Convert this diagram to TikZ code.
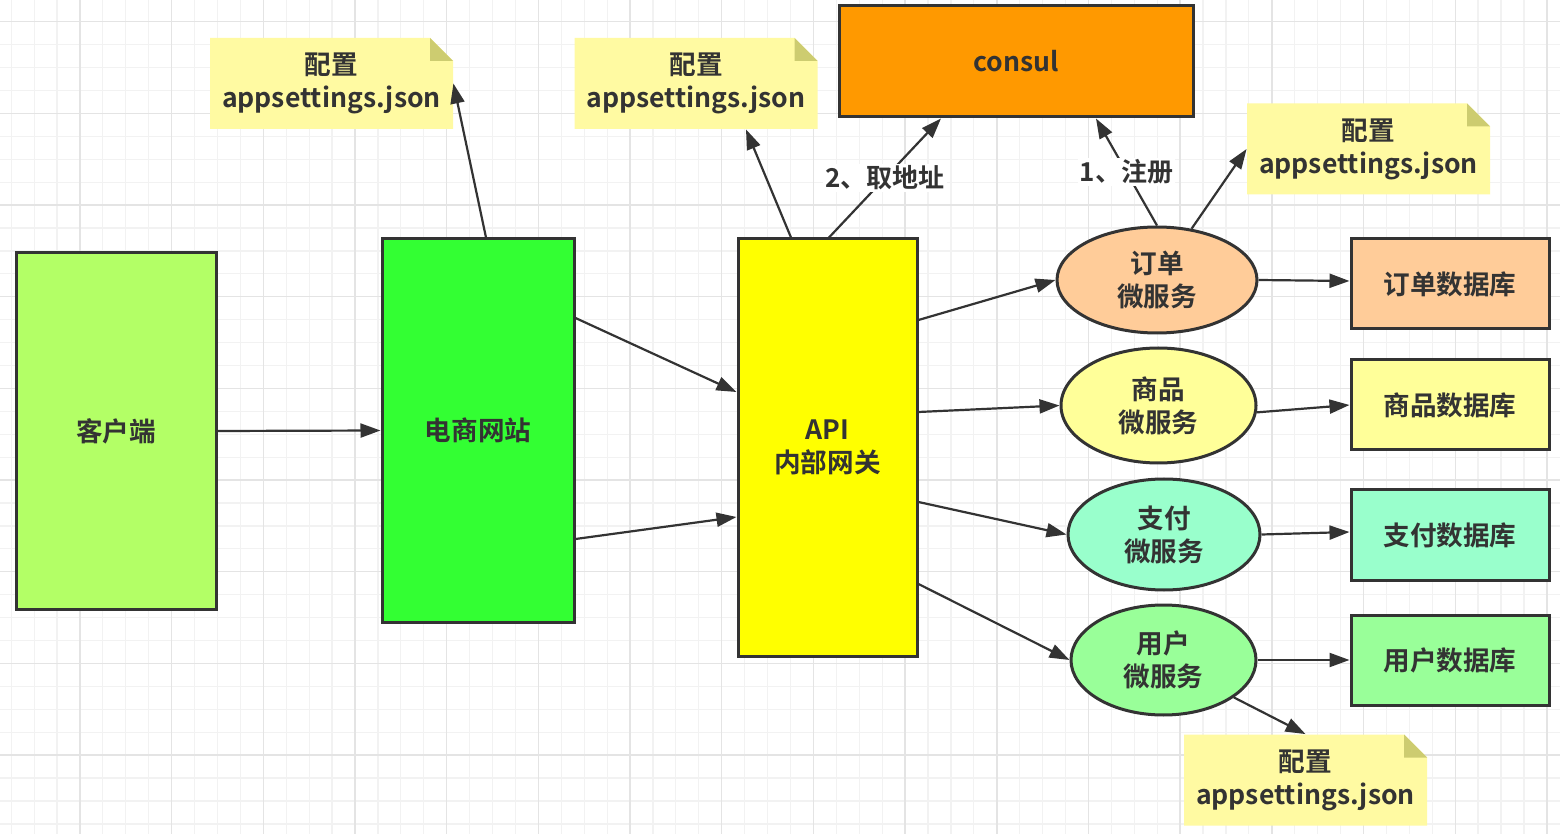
\documentclass[tikz,border=0pt]{standalone}
\usepackage{fontspec}
\setmainfont{Noto Sans CJK SC}[BoldFont={Noto Sans CJK SC Bold}]
\usetikzlibrary{arrows.meta,shapes.geometric}

\definecolor{linec}{HTML}{333333}
\definecolor{gridminor}{HTML}{F2F2F2}
\definecolor{gridmajor}{HTML}{E4E4E4}
\definecolor{clientc}{HTML}{B3FF66}
\definecolor{shopc}{HTML}{33FF33}
\definecolor{apic}{HTML}{FFFF00}
\definecolor{consulc}{HTML}{FF9900}
\definecolor{orderc}{HTML}{FFCC99}
\definecolor{goodsc}{HTML}{FFFF99}
\definecolor{payc}{HTML}{99FFCC}
\definecolor{userc}{HTML}{99FF99}
\definecolor{notefill}{HTML}{FFFAA2}
\definecolor{foldfill}{HTML}{CDCC70}

\begin{document}
\begin{tikzpicture}[x=0.5pt,y=-0.5pt,
  lab/.style={font=\fontsize{13.3pt}{16.5pt}\selectfont\bfseries, text=linec, align=center},
  box/.style={lab, rectangle, draw=linec, line width=1.5pt, inner sep=0pt},
  svc/.style={lab, ellipse, draw=linec, line width=1.5pt, inner sep=0pt},
  notebox/.style={lab, rectangle, inner sep=0pt, minimum width=121.5pt, minimum height=45.5pt,
    path picture={
      \fill[notefill] (path picture bounding box.south west) -- (path picture bounding box.north west)
        -- ([xshift=-11.5pt]path picture bounding box.north east)
        -- ([yshift=-11.5pt]path picture bounding box.north east)
        -- (path picture bounding box.south east) -- cycle;
      \fill[foldfill] ([xshift=-11.5pt]path picture bounding box.north east)
        -- ([xshift=-11.5pt,yshift=-11.5pt]path picture bounding box.north east)
        -- ([yshift=-11.5pt]path picture bounding box.north east) -- cycle;
    }},
  link/.style={draw=linec, line width=1.1pt, -{Triangle[length=10pt,width=7pt]}},
  tag/.style={font=\fontsize{13pt}{15pt}\selectfont\bfseries, text=linec, fill=white, inner sep=1pt}
]
\useasboundingbox (0,0) rectangle (1560,834);
\fill[white] (0,0) rectangle (1560,834);

% background grid
\foreach \i in {0,...,68} {
  \pgfmathsetmacro\gx{11.2+22.92*\i}
  \draw[gridminor, line width=0.6pt] (\gx,0) -- (\gx,834);
}
\foreach \i in {0,...,37} {
  \pgfmathsetmacro\gy{-1.2+22.92*\i}
  \draw[gridminor, line width=0.6pt] (0,\gy) -- (1560,\gy);
}
\foreach \i in {0,...,17} {
  \pgfmathsetmacro\gx{80+91.68*(\i-1)}
  \draw[gridmajor, line width=0.7pt] (\gx,0) -- (\gx,834);
}
\foreach \i in {0,...,9} {
  \pgfmathsetmacro\gy{21.7+91.68*\i}
  \draw[gridmajor, line width=0.7pt] (0,\gy) -- (1560,\gy);
}

% main blocks
\node[box, fill=clientc, minimum width=100pt, minimum height=178pt] (client) at (116,431) {客户端};
\node[box, fill=shopc, minimum width=96pt, minimum height=191.5pt] (shop) at (478,430.5) {电商网站};
\node[box, fill=apic, minimum width=89.5pt, minimum height=208.5pt] (api) at (827.5,447.5) {API\\内部网关};
\node[box, fill=consulc, minimum width=177pt, minimum height=55.5pt] (consul) at (1016,61.5) {consul};

% micro services
\node[svc, fill=orderc, minimum width=100pt, minimum height=53pt] (order) at (1157,280) {订单\\微服务};
\node[svc, fill=goodsc, minimum width=97.5pt, minimum height=57.5pt] (goods) at (1158.5,405.5) {商品\\微服务};
\node[svc, fill=payc, minimum width=96pt, minimum height=55.5pt] (pay) at (1164,534.5) {支付\\微服务};
\node[svc, fill=userc, minimum width=92.5pt, minimum height=55pt] (user) at (1163.5,660) {用户\\微服务};

% databases
\node[box, fill=orderc, minimum width=99pt, minimum height=45pt] (db1) at (1450,284) {订单数据库};
\node[box, fill=goodsc, minimum width=99pt, minimum height=45pt] (db2) at (1450,405) {商品数据库};
\node[box, fill=payc, minimum width=99pt, minimum height=45pt] (db3) at (1450,535) {支付数据库};
\node[box, fill=userc, minimum width=99pt, minimum height=45pt] (db4) at (1450,660) {用户数据库};

% configuration notes
\node[notebox] (n1) at (331.5,83.5) {配置\\appsettings.json};
\node[notebox] (n2) at (696,83.5) {配置\\appsettings.json};
\node[notebox] (n3) at (1368.5,149) {配置\\appsettings.json};
\node[notebox] (n4) at (1305.5,780) {配置\\appsettings.json};

% connectors
\draw[link] (client.east) -- (shop.west);
\draw[link] ([yshift=56.25pt]shop.east) -- ([yshift=27.75pt]api.west);
\draw[link] ([yshift=-54.25pt]shop.east) -- ([yshift=-34.75pt]api.west);
\draw[link] ([xshift=4pt]shop.north) -- (n1.east);
\draw[link] ([xshift=-18.25pt]api.north) -- ([xshift=25pt]n2.south);
\draw[link] ([xshift=0.75pt]api.north) -- node[tag] {2、取地址} ([xshift=-37.5pt]consul.south);
\draw[link] (order.north) -- node[tag] {1、注册} ([xshift=40pt]consul.south);
\draw[link] (order.56) -- (n3.west);
\draw[link] ([yshift=63.75pt]api.east) -- (order.west);
\draw[link] ([yshift=17.75pt]api.east) -- (goods.west);
\draw[link] ([yshift=-27.25pt]api.east) -- (pay.west);
\draw[link] ([yshift=-68.25pt]api.east) -- (user.west);
\draw[link] (order.east) -- ([yshift=1.5pt]db1.west);
\draw[link] (goods.-4) -- (db2.west);
\draw[link] (pay.east) -- ([yshift=1.5pt]db3.west);
\draw[link] (user.east) -- (db4.west);
\draw[link] (user.-28) -- (n4.north);
\end{tikzpicture}
\end{document}
